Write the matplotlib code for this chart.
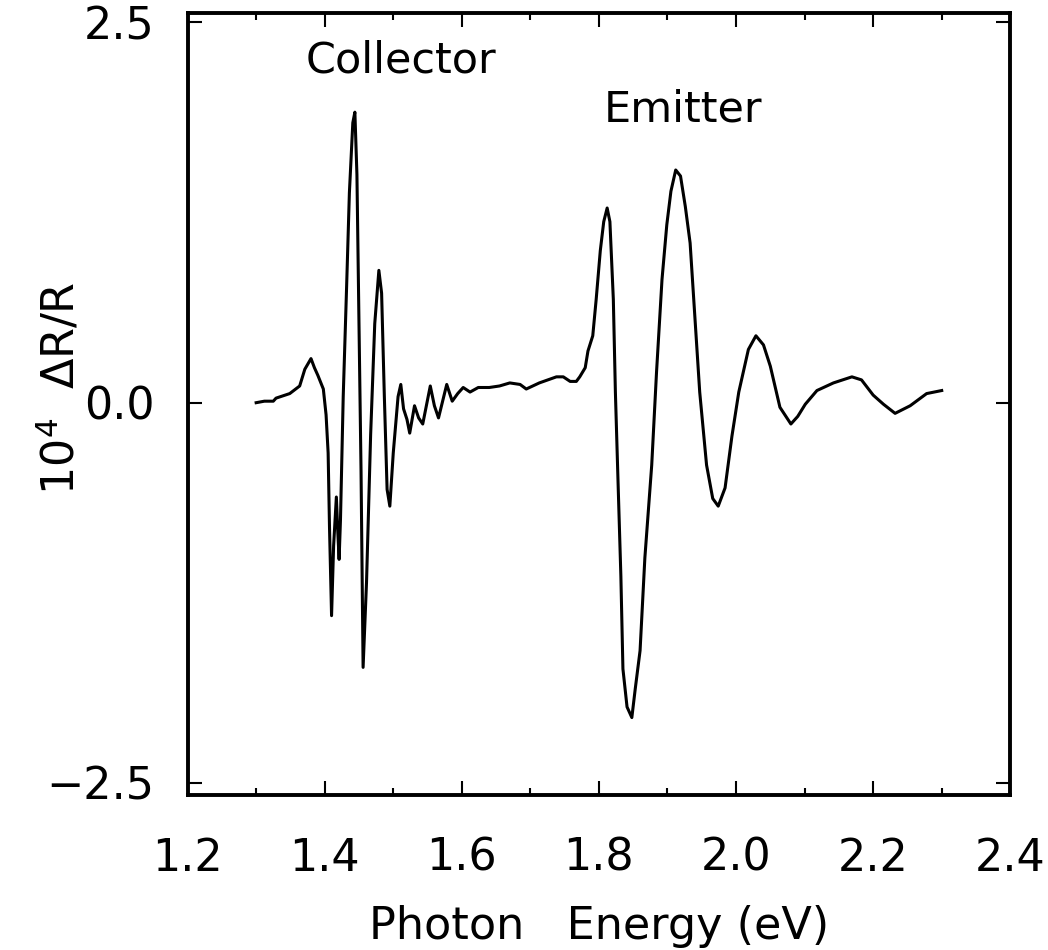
import numpy as np
import matplotlib
matplotlib.use("Agg")
import matplotlib.pyplot as plt
from matplotlib.ticker import MultipleLocator

# photon energy (eV) and 10^4 dR/R
energy = [1.300, 1.312, 1.325, 1.329, 1.349, 1.3635, 1.371, 1.380, 1.385, 1.390,
          1.398, 1.402, 1.405, 1.407, 1.410, 1.413, 1.417, 1.419, 1.421, 1.423,
          1.427, 1.432, 1.436, 1.441, 1.444, 1.447, 1.450, 1.453, 1.456, 1.461,
          1.467, 1.473, 1.479, 1.483, 1.487, 1.491, 1.495, 1.500, 1.507, 1.511,
          1.515, 1.520, 1.524, 1.531, 1.537, 1.543, 1.554, 1.560, 1.566, 1.578,
          1.586, 1.594, 1.602, 1.612, 1.624, 1.640, 1.655, 1.670, 1.685, 1.694,
          1.713, 1.738, 1.748, 1.758, 1.767, 1.772, 1.780, 1.784, 1.791, 1.796,
          1.802, 1.807, 1.812, 1.816, 1.821, 1.824, 1.828, 1.832, 1.835, 1.841,
          1.848, 1.853, 1.860, 1.867, 1.877, 1.884, 1.892, 1.899, 1.905, 1.912,
          1.919, 1.926, 1.933, 1.940, 1.947, 1.957, 1.966, 1.974, 1.984, 1.994,
          2.004, 2.018, 2.029, 2.040, 2.050, 2.064, 2.080, 2.090, 2.101, 2.118,
          2.142, 2.169, 2.183, 2.200, 2.215, 2.232, 2.254, 2.278, 2.300]
signal = [0.00, 0.01, 0.01, 0.03, 0.06, 0.11, 0.22, 0.29, 0.23, 0.18,
          0.09, -0.08, -0.33, -0.82, -1.40, -0.94, -0.62, -0.84, -1.03, -0.77,
          0.04, 0.77, 1.38, 1.84, 1.91, 1.50, 0.52, -0.45, -1.74, -1.18,
          -0.21, 0.52, 0.87, 0.72, 0.04, -0.57, -0.68, -0.33, 0.04, 0.12,
          -0.04, -0.11, -0.20, -0.02, -0.10, -0.14, 0.11, -0.02, -0.10, 0.12,
          0.01, 0.06, 0.10, 0.07, 0.10, 0.10, 0.11, 0.13, 0.12, 0.09,
          0.13, 0.17, 0.17, 0.14, 0.14, 0.17, 0.23, 0.34, 0.44, 0.68,
          1.00, 1.19, 1.28, 1.19, 0.68, 0.07, -0.54, -1.14, -1.75, -2.00,
          -2.07, -1.88, -1.63, -1.02, -0.41, 0.20, 0.81, 1.17, 1.39, 1.53,
          1.49, 1.29, 1.05, 0.56, 0.07, -0.41, -0.63, -0.68, -0.56, -0.22,
          0.07, 0.35, 0.44, 0.38, 0.24, -0.03, -0.14, -0.09, -0.01, 0.08,
          0.13, 0.17, 0.15, 0.05, -0.01, -0.07, -0.02, 0.06, 0.08]

xticks = [1.2, 1.4, 1.6, 1.8, 2.0, 2.2, 2.4]
yticks = [-2.5, 0.0, 2.5]

fig = plt.figure(figsize=(10.48, 9.5), dpi=100)
ax = fig.add_axes([0.179, 0.163, 0.785, 0.823])

ax.plot(energy, signal, color='black', lw=2.2)

ax.set_xlim(1.2, 2.4)
ax.set_ylim(-2.58, 2.56)
ax.set_xticks(xticks)
ax.set_xticklabels(['%.1f' % v for v in xticks])
ax.set_yticks(yticks)
ax.set_yticklabels(['\u22122.5', '0.0', '2.5'])
ax.xaxis.set_minor_locator(MultipleLocator(0.1))

ax.tick_params(which='both', direction='in', top=True, right=True, width=1.5)
ax.tick_params(axis='x', which='major', length=10, pad=30, labelsize=32)
ax.tick_params(axis='x', which='minor', length=5)
ax.tick_params(axis='y', which='major', length=10, pad=24, labelsize=32)
for s in ax.spines.values():
    s.set_linewidth(2.8)

ax.set_xlabel('Photon   Energy (eV)', fontsize=32)
ax.xaxis.set_label_coords(0.5, -0.14)
ax.set_ylabel('10$^4$  \u0394R/R', fontsize=32)
ax.yaxis.set_label_coords(-0.127, 0.52)

ax.text(1.512, 2.25, 'Collector', fontsize=31, ha='center', va='center')
ax.text(1.923, 1.93, 'Emitter', fontsize=31, ha='center', va='center')

fig.savefig('out.png', dpi=100)
